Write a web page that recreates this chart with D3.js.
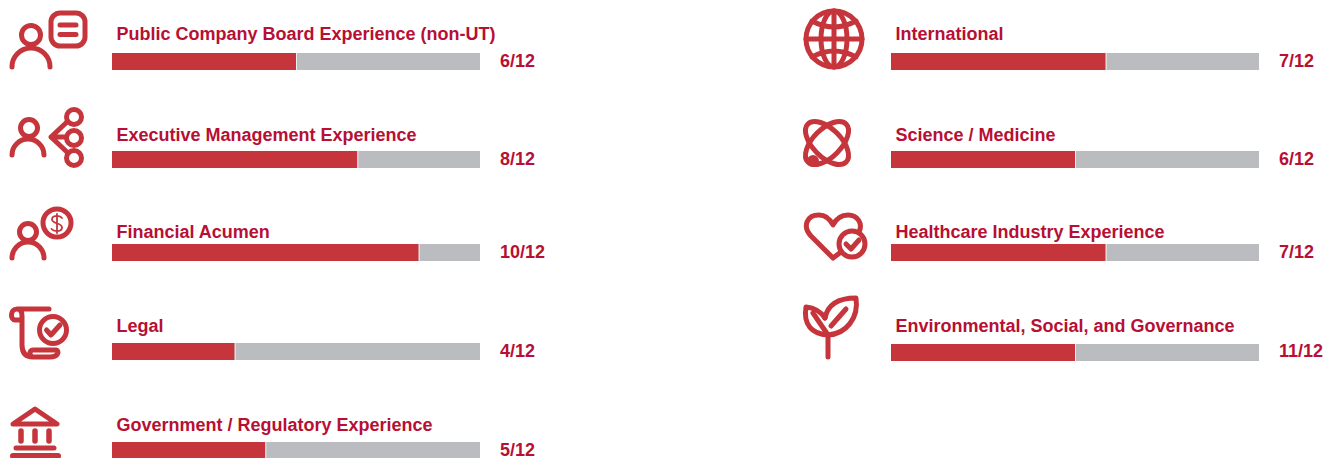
<!DOCTYPE html>
<html>
<head>
<meta charset="utf-8">
<script src="https://cdn.jsdelivr.net/npm/d3@7"></script>
<style>
  html, body { margin: 0; background: #fff; }
  svg { display: block; }
  text { font-family: "Liberation Sans", Arial, sans-serif; font-weight: bold; fill: #b80f34; }
  .icon * { stroke: #c5353b; stroke-width: 5; fill: none; stroke-linecap: round; stroke-linejoin: round; }
</style>
</head>
<body>
<svg id="chart" width="1324" height="458"></svg>
<script>
var leftCategories = ["Public Company Board Experience (non-UT)", "Executive Management Experience", "Financial Acumen", "Legal", "Government / Regulatory Experience"];
var leftFilled = [6, 8, 10, 4, 5];
var leftLabels = ["6/12", "8/12", "10/12", "4/12", "5/12"];

var rightCategories = ["International", "Science / Medicine", "Healthcare Industry Experience", "Environmental, Social, and Governance"];
var rightFilled = [7, 6, 7, 6]; // the last bar is drawn at 6 in the source even though it says 11/12
var rightLabels = ["7/12", "6/12", "7/12", "11/12"];

var total = 12;
var svg = d3.select("#chart");

var barX = d3.scaleLinear().domain([0, total]).range([0, 368]);

// rows are not evenly spaced in the source so the ranges are spelled out
function drawColumn(cats, filled, labels, x0, barTops, textBase, valueBase) {
  var barY = d3.scaleOrdinal().domain(cats).range(barTops);
  var textY = d3.scaleOrdinal().domain(cats).range(textBase);
  var valueY = d3.scaleOrdinal().domain(cats).range(valueBase);
  var rows = cats.map(function(c, i) { return { name: c, filled: filled[i], label: labels[i] }; });

  var g = svg.append("g").selectAll("g").data(rows).enter().append("g");

  g.append("rect")
    .attr("x", x0)
    .attr("y", function(d) { return barY(d.name); })
    .attr("width", barX(total))
    .attr("height", 17)
    .attr("fill", "#bbbcc0");

  g.append("rect")
    .attr("x", x0)
    .attr("y", function(d) { return barY(d.name); })
    .attr("width", function(d) { return barX(d.filled); })
    .attr("height", 17)
    .attr("fill", "#c5353b");

  // thin white gap between red and grey
  g.append("rect")
    .attr("x", function(d) { return x0 + barX(d.filled); })
    .attr("y", function(d) { return barY(d.name); })
    .attr("width", 1)
    .attr("height", 17)
    .attr("fill", "#eeeeee");

  g.append("text")
    .attr("x", x0 + 4.5)
    .attr("y", function(d) { return textY(d.name); })
    .attr("font-size", 18)
    .text(function(d) { return d.name; });

  g.append("text")
    .attr("x", x0 + 388)
    .attr("y", function(d) { return valueY(d.name); })
    .attr("font-size", 18)
    .text(function(d) { return d.label; });
}

drawColumn(leftCategories, leftFilled, leftLabels, 112, [53, 151, 244, 343, 442], [40, 141, 238, 332, 431], [67, 165, 258, 357, 456]);
drawColumn(rightCategories, rightFilled, rightLabels, 891, [53, 151, 244, 344], [40, 141, 238, 332], [67, 165, 258, 357]);

// icons
var icons = svg.append("g").attr("class", "icon");

function circle(cx, cy, r, fill) {
  var c = icons.append("circle").attr("cx", cx).attr("cy", cy).attr("r", r);
  if (fill) c.style("fill", fill);
  return c;
}
function path(d, w, fill) {
  var p = icons.append("path").attr("d", d);
  if (w) p.style("stroke-width", w);
  if (fill) p.style("fill", fill);
  return p;
}

// person + note
circle(31, 35, 9.5);
path("M12,67 A19,19 0 0 1 50,67");
icons.append("rect").attr("x", 51).attr("y", 13).attr("width", 34).attr("height", 33).attr("rx", 9);
path("M60,25 H76 M60,34.5 H76");

// person + org tree
circle(29, 128, 8.5);
path("M12,155 A16,16 0 0 1 44,155");
circle(74, 117, 7.5);
circle(74, 138, 7.5);
circle(74, 158, 7.5);
path("M67,122 L51,137 L67,152 M51,137 H66");

// person + coin
circle(28, 232, 8.5);
path("M12,258 A16,16 0 0 1 44,258");
circle(57, 223, 14);
path("M62,218 C60,215 52,215 52,219.5 C52,224 62,222.5 62,227.5 C62,232 54,232 51.5,229 M57,214 V233", 1.8);

// scroll + check
path("M49,309 H17 C10,309 10,320 15,320 H21 M17,309 C21,309 22,312 22,316 V345 C22,353 26,357 33,357 H50 C58,357 60,351 56,350 H33 C29,350 29,356 33,357");
circle(53, 330, 13.5, "#fff");
path("M46.5,330 L51,335 L60,325");

// bank
path("M13,424 L35,409 L57,424 Z");
path("M21,431 V441 M35,431 V441 M49,431 V441", 5.5);
path("M16,448 H54", 5);
path("M13,456 H58", 6);

// globe
circle(834, 39, 28);
path("M834,11 V67 M806,39 H862");
icons.append("ellipse").attr("cx", 834).attr("cy", 39).attr("rx", 13).attr("ry", 28);
path("M812,21 Q834,33 856,21 M812,57 Q834,45 856,57");

// atom
icons.append("ellipse").attr("cx", 827).attr("cy", 143).attr("rx", 27).attr("ry", 14).attr("transform", "rotate(45 827 143)");
icons.append("ellipse").attr("cx", 827).attr("cy", 143).attr("rx", 27).attr("ry", 14).attr("transform", "rotate(-45 827 143)");
circle(813, 161, 3.5, "#c5353b");

// heart + check
path("M833,258 L811,236 C802,226 807,215 819,215 C825,215 830,219 833,225 C836,219 841,215 848,215 C858,215 863,224 859,232 M833,258 L841,252");
circle(852, 244, 13, "#fff");
path("M846,244 L851,249 L859,240");

// plant
path("M828,357 V335");
path("M828,335 C812,334 803,325 806,307 C815,308 821,312 825,318");
path("M828,335 C846,334 859,318 856,298 C841,298 828,303 825,318");
path("M813,313 L828,335 M846,309 L831,326");
</script>
</body>
</html>
